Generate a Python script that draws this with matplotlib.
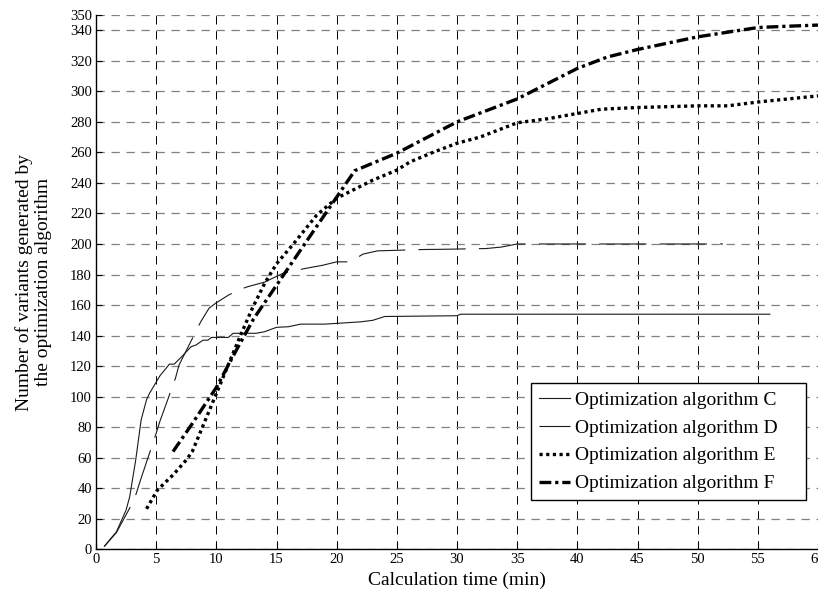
import numpy as np
import matplotlib
matplotlib.use("Agg")
import matplotlib.pyplot as plt

plt.rcParams['font.family'] = ['Liberation Serif', 'DejaVu Serif']
plt.rcParams['lines.scale_dashes'] = False

# DATA
C_x = [0.7, 1.7, 2.5, 2.8, 3.3, 3.75, 4.2, 4.45, 5.3, 6.1, 6.5, 7.1, 7.9, 8.3, 8.9, 9.3, 9.6,
       11.0, 11.4, 13.3, 14.0, 15.0, 16.0, 17.0, 19.0, 20.0, 22.0, 23.0, 24.0, 30.0, 30.3, 56.0]
C_y = [2, 11.5, 25.7, 34.4, 58.5, 84.7, 98, 102.2, 113.5, 121.3, 121.3, 126, 132.7, 133.8, 137, 137, 138.8,
       138.8, 141.5, 141.5, 142.5, 145.4, 145.8, 147.5, 147.5, 148, 149, 150, 152.5, 153, 154, 154]

D_x = [0.7, 1.7, 2.8, 3.3, 3.7, 5.0, 5.3, 6.6, 6.9, 8.7, 9.4, 10.0, 11.0, 12.0, 12.6, 14.0, 15.6, 17.4,
       18.8, 20.0, 21.1, 22.2, 23.4, 27.3, 28.6, 32.4, 33.7, 35.0, 37.5, 52.1]
D_y = [2, 11, 27, 35.5, 45.4, 76, 83.6, 112, 120.7, 149, 158, 161.5, 166.5, 170.3, 172, 175, 181, 184,
       186, 188.3, 188.3, 193.4, 195.5, 196.4, 196.5, 197, 198, 200, 200, 200]

E_x = [4.2, 5.1, 6.4, 7.5, 8.0, 9.0, 10.0, 11.0, 12.0, 13.0, 14.0, 15.0, 16.4, 18.35, 20.0, 23.0,
       25.0, 26.1, 28.0, 30.0, 31.9, 35.0, 37.5, 40.0, 42.0, 45.0, 50.0, 52.5, 55.0, 60.0]
E_y = [26.5, 38.8, 48.7, 58.5, 64, 83, 102, 121, 140, 158, 174, 187, 200, 219, 230, 241.8,
       248.4, 253.8, 260, 266, 270, 279.4, 282, 285.5, 288.3, 289.4, 290.5, 290.5, 293, 297]

F_x = [6.4, 7.8, 10.0, 11.7, 13.1, 21.5, 25.0, 30.0, 35.0, 40.0, 42.5, 45.0, 50.0, 55.0, 57.0, 60.0]
F_y = [64, 80, 106, 131, 151, 248, 259.5, 280, 295, 315, 322.5, 327.4, 335.7, 341.8, 342.5, 343.4]

labels = ['Optimization algorithm C', 'Optimization algorithm D',
          'Optimization algorithm E', 'Optimization algorithm F']
x_ticks = np.arange(0, 61, 5)
y_ticks = list(range(0, 341, 20)) + [350]

# PLOT
fig = plt.figure(figsize=(8.18, 5.97), dpi=100)
ax = fig.add_axes([96/818, 1-549.3/597, 1-96/818, (549.3-15)/597])

ax.plot(C_x, C_y, color='#1a1a1a', lw=0.8, label=labels[0])
ax.plot(D_x, D_y, color='#1a1a1a', lw=0.8, linestyle=(0, (34, 9.5)), label=labels[1])
ax.plot(E_x, E_y, color='black', lw=2.4, linestyle=(0, (2.3, 2.5)), label=labels[2])
ax.plot(F_x, F_y, color='black', lw=2.4, linestyle=(0, (8.5, 2.8, 2.3, 2.8)), label=labels[3])

ax.set_xlim(0, 60)
ax.set_ylim(0, 350)
ax.set_xticks(x_ticks)
ax.set_yticks(y_ticks)
ax.tick_params(direction='in', length=4, labelsize=10.5, pad=3)

# grid: gray dashed horizontal, black dashed vertical
ax.yaxis.grid(True, color='#808080', linestyle=(0, (6, 4.8)), lw=0.9)
ax.xaxis.grid(True, color='black', linestyle=(0, (6, 4.8)), lw=0.7)
ax.set_axisbelow(True)
for s in ['top', 'right']:
    ax.spines[s].set_visible(False)
ax.spines['left'].set_linewidth(1.0)
ax.spines['bottom'].set_linewidth(1.0)

ax.set_xlabel('Calculation time (min)', fontsize=14, labelpad=4)
ax.set_ylabel('Number of variants generated by\nthe optimization algorithm',
              fontsize=14, labelpad=13, linespacing=1.15)

leg = ax.legend(loc='lower left', bbox_to_anchor=(0.603, 0.092, 0.381, 0.217), mode='expand',
                fontsize=14, fancybox=False, edgecolor='black', framealpha=1,
                handlelength=1.6, handletextpad=0.25, borderpad=0.4,
                labelspacing=0.53, borderaxespad=0)
leg.get_frame().set_linewidth(1.0)

fig.savefig('out.png', dpi=100)
